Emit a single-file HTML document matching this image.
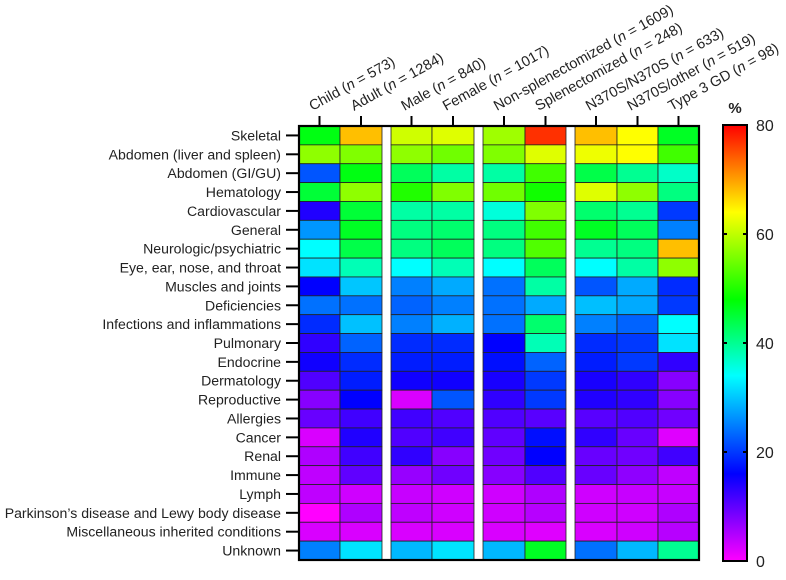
<!DOCTYPE html>
<html><head><meta charset="utf-8"><style>
html,body{margin:0;padding:0;background:#fff;}
svg{display:block;font-family:"Liberation Sans",Arial,sans-serif;}
</style></head><body>
<svg id="chart" width="786" height="580" viewBox="0 0 786 580"></svg>
<script>
const columns = ["Child (n = 573)","Adult (n = 1284)","Male (n = 840)","Female (n = 1017)","Non-splenectomized (n = 1609)","Splenectomized (n = 248)","N370S/N370S (n = 633)","N370S/other (n = 519)","Type 3 GD (n = 98)"];
const colPrefix = ["Child","Adult","Male","Female","Non-splenectomized","Splenectomized","N370S/N370S","N370S/other","Type 3 GD"];
const colN = ["573","1284","840","1017","1609","248","633","519","98"];
const rows = ["Skeletal","Abdomen (liver and spleen)","Abdomen (GI/GU)","Hematology","Cardiovascular","General","Neurologic/psychiatric","Eye, ear, nose, and throat","Muscles and joints","Deficiencies","Infections and inflammations","Pulmonary","Endocrine","Dermatology","Reproductive","Allergies","Cancer","Renal","Immune","Lymph","Parkinson\u2019s disease and Lewy body disease","Miscellaneous inherited conditions","Unknown"];
const values = [
 [47,68,61,62,58,77,68,64,46],
 [57,56,57,55,56,62,63,64,52],
 [22,47,43,39,39,52,44,40,37],
 [45,57,50,56,55,49,62,57,41],
 [14,45,39,39,36,56,42,40,20],
 [26.6,46,41,42,41,52,46,43,25],
 [34,44,41,43,41,53,40,41,68],
 [32,38,34,38,34,43,34,39,57],
 [16,30,25,28,24,39,22,28,19],
 [24,24,23,25,24,28,29.5,28,20],
 [19,29.6,25,28.5,24,42,25,23,34],
 [13,23,19,19,16,38,19,20,32],
 [15,19,18,18,17,23,18,20,13],
 [11,18,15,15,14.5,20,14.5,13,7.5],
 [7.5,16,2.4,22,13,20,14,13,7.5],
 [9.5,12,12,11,11,10.5,10.5,11,9],
 [2.4,14,11,12,10,17,13,9.5,2],
 [5,12,13,7.5,9,16,9.5,9,12],
 [4,10,6.5,9,7.5,11,9.5,7,4],
 [4,3,3.5,3,3,5,3,3.5,3.5],
 [0,5,4,3,3,4.5,3,3,5],
 [2.4,2.4,2.4,2.4,2.4,2,2.4,3,4.5],
 [25,32,29,32,29,46,24,29,40]
];
const scaleTicks = [0,20,40,60,80];

const NS="http://www.w3.org/2000/svg";
const svg=document.getElementById('chart');
function mk(t,a,p){const e=document.createElementNS(NS,t);for(const k in a)e.setAttribute(k,a[k]);(p||svg).appendChild(e);return e;}
const stops=[[0,[255,0,255]],[16,[0,0,255]],[34,[0,255,255]],[48,[0,255,0]],[64,[255,255,0]],[80,[255,0,0]]];
function color(v){v=Math.max(0,Math.min(80,v));for(let i=0;i<stops.length-1;i++){const a=stops[i],b=stops[i+1];if(v<=b[0]){const t=(v-a[0])/(b[0]-a[0]);const c=a[1].map((x,j)=>Math.round(x+(b[1][j]-x)*t));return `rgb(${c})`;}}return 'rgb(255,0,0)';}
const colX=[[299,340],[340,382],[391,432],[432,474],[483,525],[525,566],[575,617],[617,658],[658,699]];
const hmTop=126,hmBot=560,rowH=(hmBot-hmTop)/rows.length;
function yRow(i){return hmTop+i*rowH;}
for(let r=0;r<rows.length;r++){
 for(let c=0;c<columns.length;c++){
  const rc=mk('rect',{x:colX[c][0],y:yRow(r),width:colX[c][1]-colX[c][0],height:rowH,fill:color(values[r][c]),stroke:'#222','stroke-width':0.8});
  
  
 }
}
const hb=mk('rect',{x:299,y:hmTop,width:400,height:hmBot-hmTop,fill:'none',stroke:'#000','stroke-width':2.2});


for(let r=0;r<rows.length;r++){
 const cy=yRow(r)+rowH/2;
 mk('line',{x1:286,x2:299,y1:cy,y2:cy,stroke:'#000','stroke-width':2});
 const t=mk('text',{x:281,y:cy+5,'text-anchor':'end','font-size':'14.1px',fill:'#222'});
 t.textContent=rows[r];
 
 
}
for(let c=0;c<columns.length;c++){
 const cx=(colX[c][0]+colX[c][1])/2;
 mk('line',{x1:cx,x2:cx,y1:116,y2:126,stroke:'#000','stroke-width':2});
 const x=cx-7,y=111;
 const t=mk('text',{x:x,y:y,'font-size':'14.5px',fill:'#222',transform:`rotate(-29 ${x} ${y})`});
 
 
 const s1=mk('tspan',{},t);s1.textContent=colPrefix[c]+' (';
 const s2=mk('tspan',{'font-style':'italic'},t);s2.textContent='n';
 const s3=mk('tspan',{},t);s3.textContent=' = '+colN[c]+')';
}
const cbTop=125,cbBot=561,cbX=723,cbW=24;
const defs=mk('defs',{});
const g=mk('linearGradient',{id:'cb',x1:0,y1:1,x2:0,y2:0},defs);
stops.forEach(s=>mk('stop',{offset:s[0]/80,'stop-color':`rgb(${s[1]})`},g));
const cb=mk('rect',{x:cbX,y:cbTop,width:cbW,height:cbBot-cbTop,fill:'url(#cb)',stroke:'#000','stroke-width':2});


scaleTicks.forEach(v=>{
 const y=cbBot-(v/80)*(cbBot-cbTop);
 if(v>0&&v<80){mk('line',{x1:cbX,x2:cbX+4,y1:y,y2:y,stroke:'#000','stroke-width':2});mk('line',{x1:cbX+cbW-4,x2:cbX+cbW,y1:y,y2:y,stroke:'#000','stroke-width':2});}
 const t=mk('text',{x:756,y:y+6,'font-size':'16px',fill:'#222'});
 t.textContent=v;
 
 
});
const pt=mk('text',{x:735,y:113,'text-anchor':'middle','font-size':'15px','font-weight':'bold',fill:'#222'});
pt.textContent='%';


</script>
</body></html>
